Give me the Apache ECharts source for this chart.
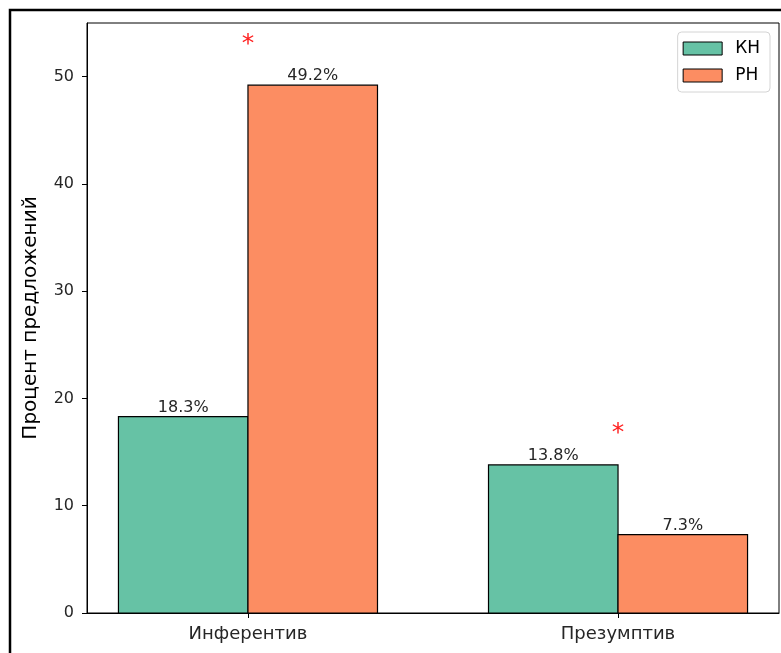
<!DOCTYPE html>
<html>
<head>
<meta charset="utf-8">
<script src="https://cdn.jsdelivr.net/npm/echarts@6/dist/echarts.min.js"></script>
<style>
html,body{margin:0;padding:0;background:#fff;}
#chart{width:781px;height:653px;}
</style>
</head>
<body>
<div id="chart"></div>
<script>
const categories = ['Инферентив', 'Презумптив'];
const seriesNames = ['КН', 'РН'];
const khValues = [18.3, 13.8];
const rhValues = [49.2, 7.3];
const sigMarkY = [53.3, 17.0];
const yTicks = [0, 10, 20, 30, 40, 50];
const colors = ['#66c2a5', '#fc8d62'];

const FONT = 'DejaVu Sans';
const BAR_W = 0.35;

const chart = echarts.init(document.getElementById('chart'), null, {renderer: 'canvas'});

function barRender(sign, color) {
  return function (params, api) {
    const x = api.value(0), y = api.value(1);
    const left = sign < 0 ? x - BAR_W : x;
    const p0 = api.coord([left, y]);
    const p1 = api.coord([left + BAR_W, 0]);
    return {
      type: 'group',
      children: [
        {type: 'rect', shape: {x: p0[0], y: p0[1], width: p1[0] - p0[0], height: p1[1] - p0[1]},
         style: {fill: color, stroke: '#000', lineWidth: 1.2}},
        {type: 'text', style: {text: y.toFixed(1) + '%', x: (p0[0] + p1[0]) / 2, y: p0[1] - 1,
          align: 'center', verticalAlign: 'bottom', fontFamily: FONT, fontSize: 16, fill: '#262626'}}
      ]
    };
  };
}

const option = {
  backgroundColor: '#fff',
  animation: false,
  graphic: [{
    type: 'rect', shape: {x: 10, y: 10, width: 800, height: 700},
    style: {fill: 'none', stroke: '#000', lineWidth: 2.5}, silent: true, z: 100
  }],
  grid: {left: 87, right: 2, top: 23, bottom: 40, show: true, borderColor: '#000', borderWidth: 1, backgroundColor: 'transparent'},
  legend: {
    data: seriesNames, orient: 'vertical', right: 11, top: 32,
    icon: 'rect', itemWidth: 39, itemHeight: 13, itemGap: 10,
    padding: [8, 10, 8, 5],
    backgroundColor: '#fff', borderColor: '#d4d4d4', borderWidth: 1, borderRadius: 4,
    textStyle: {fontFamily: FONT, fontSize: 17, color: '#000', padding: [0, 0, 0, 8]},
    itemStyle: {borderColor: '#000', borderWidth: 1}
  },
  xAxis: {
    type: 'value', min: -0.435, max: 1.435,
    splitLine: {show: false},
    axisLine: {show: true, onZero: false, lineStyle: {color: '#000', width: 1}},
    axisTick: {show: true, customValues: [0, 1], length: 5, inside: false, lineStyle: {color: '#000'}},
    axisLabel: {customValues: [0, 1], formatter: v => categories[Math.round(v)],
      fontFamily: FONT, fontSize: 18, color: '#262626', margin: 12}
  },
  yAxis: {
    type: 'value', min: 0, max: 55,
    name: 'Процент предложений', nameLocation: 'middle', nameGap: 46, nameRotate: 90,
    nameTextStyle: {fontFamily: FONT, fontSize: 20, color: '#000'},
    splitLine: {show: false},
    axisLine: {show: true, onZero: false, lineStyle: {color: '#000', width: 1}},
    axisTick: {show: true, customValues: yTicks, length: 5, inside: false, lineStyle: {color: '#000'}},
    axisLabel: {customValues: yTicks, fontFamily: FONT, fontSize: 16, color: '#262626', margin: 13}
  },
  series: [
    {name: seriesNames[0], type: 'custom', data: categories.map((c, i) => [i, khValues[i]]),
     renderItem: barRender(-1, colors[0]), itemStyle: {color: colors[0], borderColor: '#000', borderWidth: 1}, clip: false},
    {name: seriesNames[1], type: 'custom', data: categories.map((c, i) => [i, rhValues[i]]),
     renderItem: barRender(1, colors[1]), itemStyle: {color: colors[1], borderColor: '#000', borderWidth: 1}, clip: false},
    {name: 'sig', type: 'custom', data: categories.map((c, i) => [i, sigMarkY[i]]),
     renderItem: function (params, api) {
       const p = api.coord([api.value(0), api.value(1)]);
       return {type: 'text', style: {text: '*', x: p[0], y: p[1] + 3, align: 'center', verticalAlign: 'middle',
         fontFamily: FONT, fontSize: 25, fill: '#ff2020'}};
     }, clip: false}
  ]
};
chart.setOption(option);
</script>
</body>
</html>
